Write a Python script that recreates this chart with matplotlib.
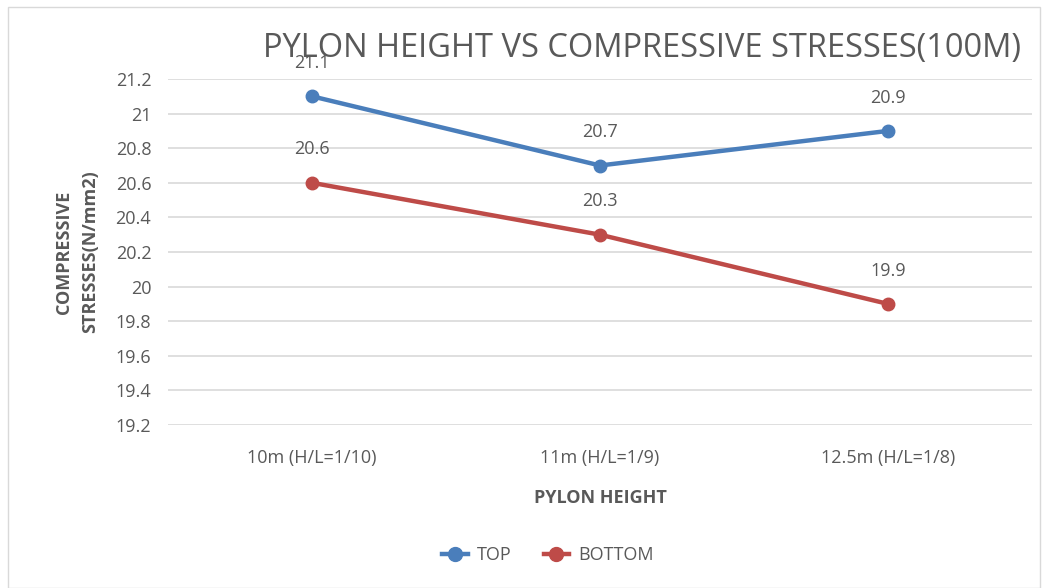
import numpy as np
import matplotlib.pyplot as plt
from matplotlib.patches import Rectangle
from matplotlib.lines import Line2D

categories = ["10m (H/L=1/10)", "11m (H/L=1/9)", "12.5m (H/L=1/8)"]
top = [21.1, 20.7, 20.9]
bottom = [20.6, 20.3, 19.9]
yticks = [19.2, 19.4, 19.6, 19.8, 20, 20.2, 20.4, 20.6, 20.8, 21, 21.2]
ytick_labels = ["19.2", "19.4", "19.6", "19.8", "20", "20.2", "20.4",
                "20.6", "20.8", "21", "21.2"]

blue = "#4A7EBB"
red = "#BE4B48"
text_col = "#595959"

plt.rcParams['font.family'] = ['Open Sans', 'DejaVu Sans']

fig = plt.figure(figsize=(10.49, 5.88), dpi=100)
fig.patches.append(Rectangle((8 / 1049, 0), 1032 / 1049, 581 / 588,
                             transform=fig.transFigure, fill=False,
                             edgecolor="#D9D9D9", linewidth=1))

ax = fig.add_axes([168 / 1049, 1 - 425 / 588, 864 / 1049, 346 / 588])
x = np.arange(len(categories))

ax.plot(x, top, color=blue, linewidth=3.2, marker='o', markersize=9,
        solid_capstyle='round', zorder=3)
ax.plot(x, bottom, color=red, linewidth=3.2, marker='o', markersize=9,
        solid_capstyle='round', zorder=3)

# data labels sit above each point
for xi, v in zip(x, top):
    ax.annotate("%g" % v, (xi, v), xytext=(0, 24), textcoords='offset points',
                ha='center', va='center', fontsize=13, color=text_col)
for xi, v in zip(x, bottom):
    ax.annotate("%g" % v, (xi, v), xytext=(0, 24), textcoords='offset points',
                ha='center', va='center', fontsize=13, color=text_col)

ax.set_xlim(-0.5, 2.5)
ax.set_ylim(19.2, 21.2)
ax.set_xticks(x)
ax.set_xticklabels(categories)
ax.set_yticks(yticks)
ax.set_yticklabels(ytick_labels)
ax.tick_params(axis='both', length=0, labelsize=13, colors=text_col)
ax.tick_params(axis='x', pad=17)
ax.tick_params(axis='y', pad=12)
ax.grid(axis='y', color="#D9D9D9", linewidth=1.2)
ax.set_axisbelow(True)
for s in ax.spines.values():
    s.set_visible(False)

ax.set_xlabel("PYLON HEIGHT", fontsize=13, fontweight='bold', color=text_col,
              labelpad=16)
ax.set_ylabel("COMPRESSIVE\nSTRESSES(N/mm2)", fontsize=13, fontweight='bold',
              color=text_col, labelpad=12, linespacing=1.6)

fig.text(642 / 1049, 1 - 48 / 588, "PYLON HEIGHT VS COMPRESSIVE STRESSES(100M)",
         ha='center', va='center', fontsize=23.5, color=text_col)

handles = [Line2D([0], [0], color=blue, linewidth=3.2, marker='o', markersize=10),
           Line2D([0], [0], color=red, linewidth=3.2, marker='o', markersize=10)]
fig.legend(handles, ["TOP", "BOTTOM"], loc='center', ncol=2, frameon=False,
           bbox_to_anchor=(548 / 1049, 1 - 555 / 588), fontsize=13,
           labelcolor=text_col, handlelength=1.4, handletextpad=0.5,
           columnspacing=1.8)

fig.savefig("out.png", dpi=100)
